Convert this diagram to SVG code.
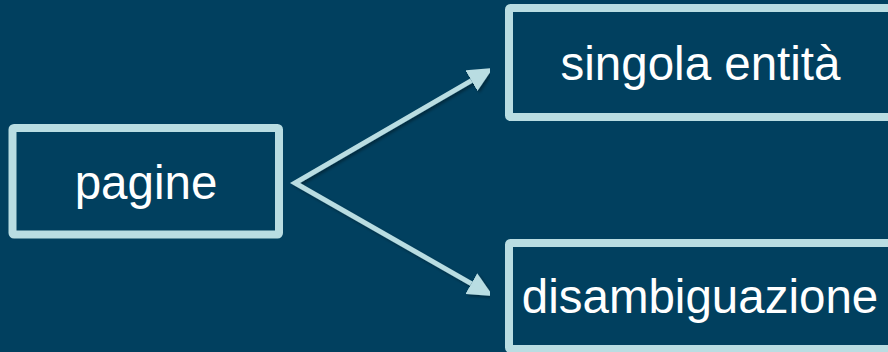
<svg xmlns="http://www.w3.org/2000/svg" width="888" height="352" viewBox="0 0 888 352">
  <style>
    .box { fill: #01405f; stroke: #b9dde2; stroke-width: 8; }
    .label { font-family: "Liberation Sans", Arial, sans-serif; font-size: 47.5px; fill: #ffffff; text-anchor: middle; }
    .conn { fill: none; stroke: #b9dde2; stroke-width: 5; stroke-linejoin: miter; stroke-miterlimit: 10; }
  </style>
  <defs>
    <marker id="arrow" markerUnits="userSpaceOnUse" markerWidth="25" markerHeight="24" refX="0" refY="12" orient="auto-start-reverse" viewBox="0 0 25 24">
      <path d="M0,0 L25,12 L0,24 Z" fill="#b9dde2"/>
    </marker>
    <filter id="shadow" x="-10%" y="-10%" width="120%" height="120%">
      <feDropShadow dx="2" dy="2" stdDeviation="1.5" flood-color="#000000" flood-opacity="0.35"/>
    </filter>
  </defs>
  <rect x="0" y="0" width="888" height="352" fill="#01405f"/>
  <g id="connectors" filter="url(#shadow)">
    <path class="conn" d="M471.4,80.6 L295,183 L471.3,283.6" marker-start="url(#arrow)" marker-end="url(#arrow)"/>
  </g>
  <g id="node-pagine">
    <rect class="box" x="12.5" y="128" width="266.5" height="106.5" rx="1.5"/>
    <text class="label" x="146" y="199">pagine</text>
  </g>
  <g id="node-singola">
    <rect class="box" x="509" y="8" width="400" height="109" rx="1.5"/>
    <text class="label" x="700.5" y="80">singola entità</text>
  </g>
  <g id="node-disambiguazione">
    <rect class="box" x="509" y="243" width="400" height="106" rx="1.5"/>
    <text class="label" x="700" y="313">disambiguazione</text>
  </g>
</svg>
